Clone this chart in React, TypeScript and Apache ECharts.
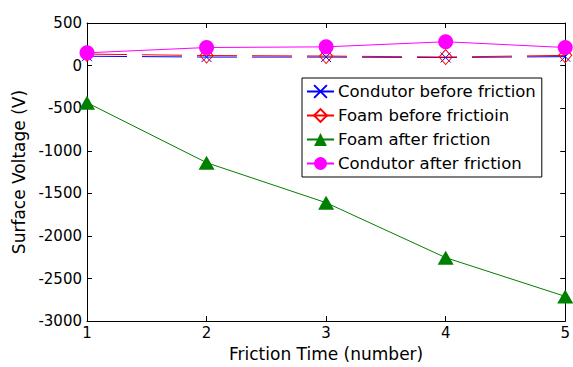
import React, { useEffect, useRef } from "react";
import * as echarts from "echarts";

const frictionTimes = [1, 2, 3, 4, 5];
const condutorBefore = [110, 100, 100, 95, 105];
const foamBefore = [135, 118, 112, 100, 120];
const foamAfter = [-435, -1140, -1610, -2255, -2710];
const condutorAfter = [150, 212, 220, 280, 212];
const yTicks = { min: -3000, max: 500, interval: 500 };

const FONT = "DejaVu Sans";

function pairs(vals: number[]) {
  return frictionTimes.map((x, i) => [x, vals[i]]);
}

export default function App() {
  const ref = useRef<HTMLDivElement>(null);
  useEffect(() => {
    if (!ref.current) return;
    const chart = echarts.init(ref.current, undefined, { renderer: "svg" });
    const axisLine = { show: true, onZero: false, lineStyle: { color: "#000", width: 1 } };
    const tick = { show: true, inside: true, length: 5, lineStyle: { color: "#000" } };
    chart.setOption({
      animation: false,
      backgroundColor: "#fff",
      grid: { left: 87, right: 4, top: 23, bottom: 44, containLabel: false },
      legend: {
        left: 302,
        top: 78,
        orient: "vertical",
        backgroundColor: "#fff",
        borderColor: "#000",
        borderWidth: 1,
        borderRadius: 0,
        padding: [5, 6, 5, 4],
        itemWidth: 27,
        itemHeight: 16,
        itemGap: 7,
        lineStyle: { type: "solid" },
        textStyle: { fontFamily: FONT, fontSize: 16.5, color: "#000", padding: [0, 0, 0, -1] },
        data: ["Condutor before friction", "Foam before frictioin", "Foam after friction", "Condutor after friction"],
      },
      xAxis: [
        {
          type: "value",
          position: "bottom",
          min: 1,
          max: 5,
          interval: 1,
          name: "Friction Time (number)",
          nameLocation: "middle",
          nameGap: 22,
          nameTextStyle: { fontFamily: FONT, fontSize: 17, color: "#000" },
          axisLine,
          axisTick: tick,
          axisLabel: { fontFamily: FONT, fontSize: 15, color: "#000", margin: 4 },
          splitLine: { show: false },
        },
        {
          type: "value",
          position: "top",
          min: 1,
          max: 5,
          interval: 1,
          axisLine,
          axisTick: tick,
          axisLabel: { show: false },
          splitLine: { show: false },
        },
      ],
      yAxis: [
        {
          type: "value",
          position: "left",
          min: yTicks.min,
          max: yTicks.max,
          interval: yTicks.interval,
          name: "Surface Voltage (V)",
          nameLocation: "middle",
          nameGap: 58,
          nameTextStyle: { fontFamily: FONT, fontSize: 17, color: "#000" },
          axisLine,
          axisTick: tick,
          axisLabel: {
            fontFamily: FONT,
            fontSize: 15,
            color: "#000",
            margin: 5,
            formatter: (v: number) => String(v),
          },
          splitLine: { show: false },
        },
        {
          type: "value",
          position: "right",
          min: yTicks.min,
          max: yTicks.max,
          interval: yTicks.interval,
          axisLine,
          axisTick: tick,
          axisLabel: { show: false },
          splitLine: { show: false },
        },
      ],
      series: [
        {
          name: "Condutor before friction",
          type: "line",
          data: pairs(condutorBefore),
          symbol: "path://M0,0L10,10M10,0L0,10",
          symbolSize: 10,
          clip: false,
          lineStyle: { color: "#0000ff", width: 1, type: [40, 15] },
          itemStyle: { color: "#0000ff", borderColor: "#0000ff", borderWidth: 1 },
          z: 2,
        },
        {
          name: "Foam before frictioin",
          type: "line",
          data: pairs(foamBefore),
          symbol: "diamond",
          symbolSize: [13, 15],
          clip: false,
          lineStyle: { color: "#ff0000", width: 1, type: [40, 15] },
          itemStyle: { color: "transparent", borderColor: "#ff0000", borderWidth: 1 },
          z: 3,
        },
        {
          name: "Foam after friction",
          type: "line",
          data: pairs(foamAfter),
          symbol: "triangle",
          symbolSize: [16, 14],
          clip: false,
          lineStyle: { color: "#008000", width: 1 },
          itemStyle: { color: "#008000" },
          z: 4,
        },
        {
          name: "Condutor after friction",
          type: "line",
          data: pairs(condutorAfter),
          symbol: "circle",
          symbolSize: 15,
          clip: false,
          lineStyle: { color: "#ff00ff", width: 1 },
          itemStyle: { color: "#ff00ff" },
          z: 5,
        },
      ],
    });
    return () => chart.dispose();
  }, []);
  return <div ref={ref} style={{ position: "fixed", left: 0, top: 0, width: 573, height: 367 }} />;
}
